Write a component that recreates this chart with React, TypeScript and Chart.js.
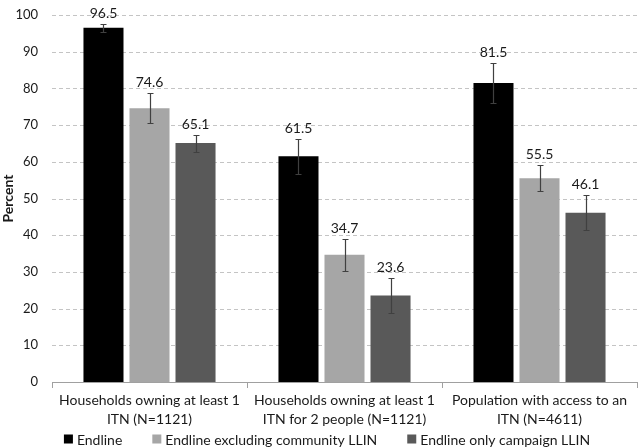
import React, { useEffect, useRef } from "react";
import { Chart, registerables } from "chart.js";

Chart.register(...registerables);

const categories: string[][] = [
  ["Households owning at least 1", "ITN (N=1121)"],
  ["Households owning at least 1", "ITN for 2 people (N=1121)"],
  ["Population with access to an", "ITN (N=4611)"],
];

const seriesNames = ["Endline", "Endline excluding community LLIN", "Endline only campaign LLIN"];
const seriesColors = ["#000000", "#a6a6a6", "#595959"];

const endline = [96.5, 61.5, 81.5];
const endlineLo = [95.5, 56.7, 76.0];
const endlineHi = [97.5, 66.3, 87.0];

const exclCommunity = [74.6, 34.7, 55.5];
const exclCommunityLo = [70.5, 30.2, 52.1];
const exclCommunityHi = [78.7, 39.0, 59.0];

const campaignOnly = [65.1, 23.6, 46.1];
const campaignOnlyLo = [62.7, 18.8, 41.4];
const campaignOnlyHi = [67.2, 28.3, 50.9];

const yTicks = [0, 10, 20, 30, 40, 50, 60, 70, 80, 90, 100];

const seriesValues = [endline, exclCommunity, campaignOnly];
const seriesLo = [endlineLo, exclCommunityLo, campaignOnlyLo];
const seriesHi = [endlineHi, exclCommunityHi, campaignOnlyHi];

const FONT = "Lato, 'Noto Sans', sans-serif";
const TEXT = "#1a1a1a";

const dashedGridPlugin = {
  id: "dashedGrid",
  beforeDatasetsDraw(chart: any) {
    const ctx = chart.ctx;
    const y = chart.scales.y;
    const area = chart.chartArea;
    ctx.save();
    ctx.strokeStyle = "#c4c4c4";
    ctx.lineWidth = 1;
    ctx.setLineDash([4, 3]);
    yTicks.forEach((v) => {
      if (v === 0) return;
      const py = Math.round(y.getPixelForValue(v)) + 0.5;
      ctx.beginPath();
      ctx.moveTo(area.left, py);
      ctx.lineTo(area.right, py);
      ctx.stroke();
    });
    ctx.restore();
  },
};

const errorBarPlugin = {
  id: "errorBarsAndLabels",
  afterDatasetsDraw(chart: any) {
    const ctx = chart.ctx;
    const y = chart.scales.y;
    ctx.save();
    chart.data.datasets.forEach((_ds: any, i: number) => {
      const meta = chart.getDatasetMeta(i);
      meta.data.forEach((bar: any, j: number) => {
        const x = Math.round(bar.x) + 0.5;
        const lo = Math.round(y.getPixelForValue(seriesLo[i][j])) + 0.5;
        const hi = Math.round(y.getPixelForValue(seriesHi[i][j])) + 0.5;
        ctx.strokeStyle = "#404040";
        ctx.lineWidth = 1.2;
        ctx.beginPath();
        ctx.moveTo(x, lo);
        ctx.lineTo(x, hi);
        ctx.moveTo(x - 3, lo);
        ctx.lineTo(x + 3, lo);
        ctx.moveTo(x - 3, hi);
        ctx.lineTo(x + 3, hi);
        ctx.stroke();
        ctx.fillStyle = TEXT;
        ctx.font = `14px ${FONT}`;
        ctx.textAlign = "center";
        ctx.textBaseline = "bottom";
        ctx.fillText(seriesValues[i][j].toFixed(1), bar.x, hi - 4);
      });
    });
    ctx.restore();
  },
};

const legendPlugin = {
  id: "customLegend",
  afterDraw(chart: any) {
    const ctx = chart.ctx;
    ctx.save();
    ctx.font = `14px ${FONT}`;
    const box = 9;
    const gap = 4;
    const spacing = 30;
    const widths = seriesNames.map((n) => box + gap + ctx.measureText(n).width);
    const total = widths.reduce((a, b) => a + b, 0) + spacing * (widths.length - 1);
    let x = chart.width / 2 + 8 - total / 2;
    const cy = chart.height - 8;
    seriesNames.forEach((n, i) => {
      ctx.fillStyle = seriesColors[i];
      ctx.fillRect(x, cy - box / 2, box, box);
      ctx.fillStyle = TEXT;
      ctx.textAlign = "left";
      ctx.textBaseline = "middle";
      ctx.fillText(n, x + box + gap, cy + 1);
      x += widths[i] + spacing;
    });
    ctx.restore();
  },
};

export default function App() {
  const ref = useRef<HTMLCanvasElement | null>(null);
  useEffect(() => {
    if (!ref.current) return;
    const chart = new Chart(ref.current, {
      type: "bar",
      data: {
        labels: categories,
        datasets: seriesNames.map((name, i) => ({
          label: name,
          data: seriesValues[i],
          backgroundColor: seriesColors[i],
          borderWidth: 0,
          categoryPercentage: 0.708,
          barPercentage: 0.87,
        })),
      },
      options: {
        responsive: false,
        animation: false,
        layout: { padding: { top: 15, left: 0, right: 1, bottom: 20 } },
        plugins: {
          legend: { display: false },
          tooltip: { enabled: false },
        },
        scales: {
          x: {
            grid: {
              offset: true,
              drawOnChartArea: false,
              drawTicks: true,
              tickLength: 6,
              color: "#a0a0a0",
            },
            border: { display: true, color: "#a0a0a0", width: 1 },
            ticks: {
              color: TEXT,
              font: { family: FONT, size: 14, lineHeight: 1.35 },
              padding: 3,
              maxRotation: 0,
              autoSkip: false,
            },
            afterFit(scale: any) {
              scale.height = 45;
              scale.paddingLeft = 0;
              scale.paddingRight = 0;
            },
          },
          y: {
            min: 0,
            max: 100,
            afterBuildTicks(scale: any) {
              scale.ticks = yTicks.map((v) => ({ value: v }));
            },
            grid: { display: false, drawTicks: false },
            border: { display: false },
            ticks: {
              color: TEXT,
              font: { family: FONT, size: 13 },
              padding: 14,
            },
            title: {
              display: true,
              text: "Percent",
              color: TEXT,
              font: { family: FONT, size: 14, weight: "bold" },
              padding: { top: 0, bottom: 0 },
            },
            afterFit(scale: any) {
              scale.width = 52;
              scale.paddingTop = 0;
              scale.paddingBottom = 0;
            },
          },
        },
      },
      plugins: [dashedGridPlugin, errorBarPlugin, legendPlugin],
    });
    return () => chart.destroy();
  }, []);
  return (
    <div style={{ position: "absolute", left: 0, top: 0, width: 638, height: 447, background: "#fff" }}>
      <canvas ref={ref} width={638} height={447} />
    </div>
  );
}
